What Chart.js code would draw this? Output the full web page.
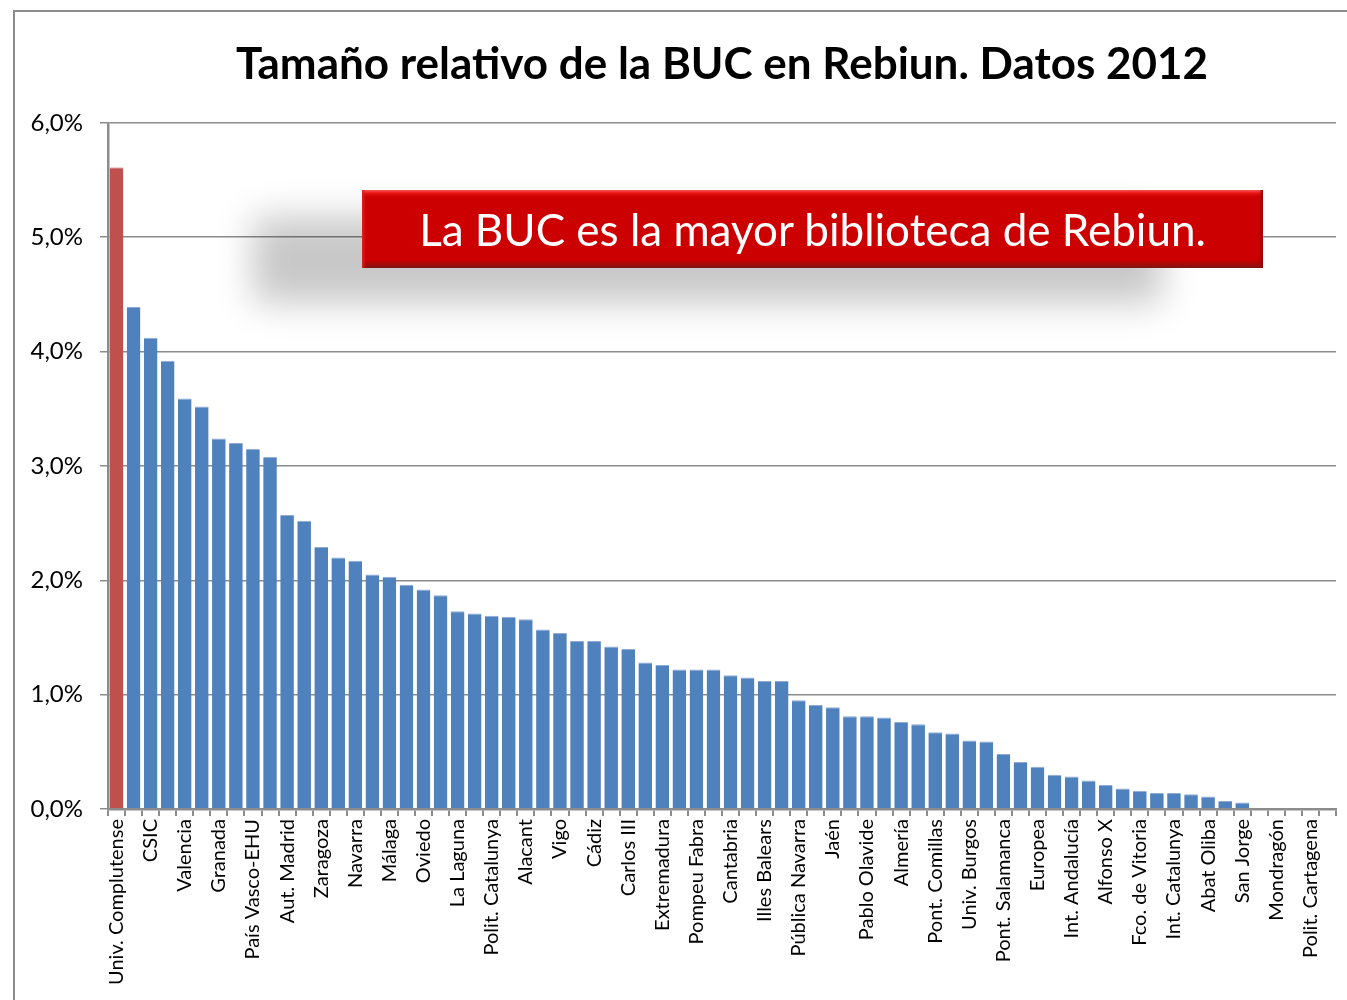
<!DOCTYPE html>
<html lang="es">
<head>
<meta charset="utf-8">
<title>Tamaño relativo de la BUC en Rebiun. Datos 2012</title>
<script src="https://cdn.jsdelivr.net/npm/chart.js@4"></script>
<style>
  html, body { margin: 0; padding: 0; background: #fff; overflow: hidden; }
  #frame {
    position: absolute; left: 13px; top: 10px; width: 1400px; height: 1100px;
    border-left: 2px solid #8c8c8c; border-top: 2px solid #8c8c8c;
  }
  #wrap { position: absolute; left: 0; top: 0; width: 1347px; height: 1000px; }
  #callout {
    position: absolute; left: 362px; top: 190px; width: 901px; height: 78px;
    box-sizing: border-box;
    background: linear-gradient(to bottom, #ff5a5a 0px, #e81414 3px, #cc0000 7px, #cc0000 70px, #a80a0a 74px, #7e1414 78px);
    box-shadow: -105px 31px 36px 4px rgba(0, 0, 0, 0.22),
                inset 4px 0 3px -2px #e02020, inset -4px 0 3px -2px #900;
    color: #fff; font-family: Lato, "Open Sans", sans-serif; font-size: 44px;
    line-height: 78px; text-align: center; white-space: nowrap;
  }
</style>
</head>
<body>
<div id="frame"></div>
<div id="wrap"><canvas id="chart" width="1347" height="1000"></canvas></div>
<div id="callout">La BUC es la mayor biblioteca de Rebiun.</div>
<script>
  // 72 libraries, only every other one is labelled on the axis
  const categories = [
    'Univ. Complutense', '', 'CSIC', '', 'Valencia', '', 'Granada', '',
    'País Vasco-EHU', '', 'Aut. Madrid', '', 'Zaragoza', '', 'Navarra', '',
    'Málaga', '', 'Oviedo', '', 'La Laguna', '', 'Polit. Catalunya', '',
    'Alacant', '', 'Vigo', '', 'Cádiz', '', 'Carlos III', '',
    'Extremadura', '', 'Pompeu Fabra', '', 'Cantabria', '', 'Illes Balears', '',
    'Pública Navarra', '', 'Jaén', '', 'Pablo Olavide', '', 'Almería', '',
    'Pont. Comillas', '', 'Univ. Burgos', '', 'Pont. Salamanca', '', 'Europea', '',
    'Int. Andalucía', '', 'Alfonso X', '', 'Fco. de Vitoria', '', 'Int. Catalunya', '',
    'Abat Oliba', '', 'San Jorge', '', 'Mondragón', '', 'Polit. Cartagena', ''
  ];

  // share of total collection, in %
  const sizePct = [
    5.61, 4.39, 4.12, 3.92, 3.59, 3.52, 3.24, 3.20,
    3.15, 3.08, 2.57, 2.52, 2.29, 2.20, 2.17, 2.05,
    2.03, 1.96, 1.92, 1.87, 1.73, 1.71, 1.69, 1.68,
    1.66, 1.57, 1.54, 1.47, 1.47, 1.42, 1.40, 1.28,
    1.26, 1.22, 1.22, 1.22, 1.17, 1.15, 1.12, 1.12,
    0.95, 0.91, 0.89, 0.81, 0.81, 0.80, 0.76, 0.74,
    0.67, 0.66, 0.60, 0.59, 0.48, 0.41, 0.37, 0.30,
    0.285, 0.25, 0.21, 0.18, 0.16, 0.14, 0.14, 0.13,
    0.11, 0.07, 0.056, 0, 0, 0, 0, 0
  ];

  const yTicks = [0, 1, 2, 3, 4, 5, 6];

  const BLUE = '#4f81bd';
  const RED = '#c0504d';
  const AXIS = '#8c8c8c';
  const FONT = 'Lato, "Open Sans", sans-serif';

  function fmtPct(v) {
    return v.toFixed(1).replace('.', ',') + '%';
  }

  function draw() {
    const ctx = document.getElementById('chart');
    new Chart(ctx, {
      type: 'bar',
      data: {
        labels: categories,
        datasets: [{
          label: 'Tamaño relativo',
          data: sizePct,
          backgroundColor: c => c.dataIndex === 0 ? RED : BLUE,
          borderColor: c => c.dataIndex === 0 ? RED : '#8eaad6',
          borderWidth: { top: 1, left: 0, right: 0, bottom: 0 },
          borderSkipped: 'bottom',
          categoryPercentage: 1,
          barPercentage: 0.8,
        }],
      },
      options: {
        responsive: false,
        animation: false,
        events: [],
        layout: { padding: { left: 0, right: 11, top: 0, bottom: 0 } },
        plugins: {
          legend: { display: false },
          tooltip: { enabled: false },
          title: {
            display: true,
            fullSize: false,
            text: 'Tamaño relativo de la BUC en Rebiun. Datos 2012',
            color: '#000',
            font: { family: FONT, size: 44, weight: 'bold' },
            padding: { top: 38, bottom: 32 },
          },
        },
        scales: {
          x: {
            offset: true,
            afterFit: s => {
              s.height = 191;
              s.paddingLeft = 0;
              s.paddingRight = 0;
            },
            border: { display: true, color: AXIS, width: 2.5 },
            grid: {
              offset: true,
              drawOnChartArea: false,
              drawTicks: true,
              tickLength: 7,
              color: AXIS,
              lineWidth: 2,
            },
            ticks: {
              autoSkip: false,
              maxRotation: 90,
              minRotation: 90,
              padding: 3,
              color: '#000',
              font: { family: FONT, size: 20 },
            },
          },
          y: {
            min: 0,
            max: yTicks[yTicks.length - 1],
            afterFit: s => { s.width = 108; },
            afterBuildTicks: s => { s.ticks = yTicks.map(v => ({ value: v })); },
            border: { display: true, color: AXIS, width: 2.5 },
            grid: {
              color: AXIS,
              lineWidth: 1.5,
              drawTicks: true,
              tickLength: 8,
              tickColor: AXIS,
            },
            ticks: {
              padding: 17,
              color: '#000',
              font: { family: FONT, size: 24 },
              callback: v => fmtPct(v),
            },
          },
        },
      },
    });
  }

  Promise.all([
    document.fonts.load('bold 44px Lato'),
    document.fonts.load('20px Lato'),
  ]).catch(() => {}).then(draw);
</script>
</body>
</html>
